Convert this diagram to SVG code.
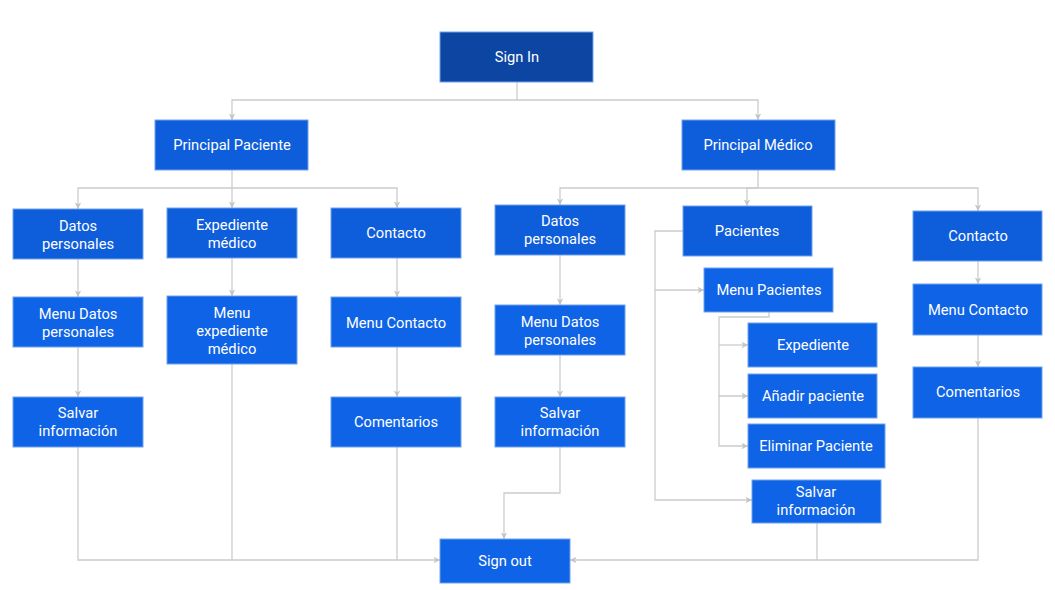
<svg xmlns="http://www.w3.org/2000/svg" width="1055" height="590" viewBox="0 0 1055 590">
<style>
.n rect{fill:#0f63e6;stroke:#6ea2ee;stroke-width:1}
.n.dk rect{fill:#0c46a2}
.n.md rect{fill:#0e5ddb}
.n text{font-family:Roboto,"Liberation Sans",sans-serif;font-size:14.7px;fill:#ffffff;text-anchor:middle}
.c path{fill:none;stroke:#cccccc;stroke-width:1.3;marker-end:url(#a)}
.c path.p{marker-end:none}
</style>
<defs>
<marker id="a" viewBox="0 0 10 10" refX="9" refY="5" markerWidth="8" markerHeight="8" markerUnits="userSpaceOnUse" orient="auto">
<path d="M1,1 L9,5 L1,9 L3,5 Z" fill="#c4c4c4"/>
</marker>
</defs>
<rect width="1055" height="590" fill="#ffffff"/>
<g class="c">
<path class="p" d="M517,82 V100"/>
<path d="M517,100 H232 V120"/>
<path d="M517,100 H758 V120"/>
<path class="p" d="M232,170 V188"/>
<path d="M232,188 H78 V209"/>
<path d="M232,188 V208"/>
<path d="M232,188 H397 V208"/>
<path class="p" d="M758,170 V188"/>
<path d="M758,188 H560 V205"/>
<path d="M758,188 H747 V206"/>
<path d="M758,188 H978 V211"/>
<path d="M78,259 V297"/>
<path d="M78,347 V397"/>
<path d="M232,258 V296"/>
<path d="M397,258 V297"/>
<path d="M397,347 V397"/>
<path d="M560,255 V305"/>
<path d="M560,355 V397"/>
<path d="M978,261 V284"/>
<path d="M978,335 V367"/>
<path class="p" d="M683,231 H655 V290"/>
<path d="M655,290 H704"/>
<path d="M655,290 V500 H752"/>
<path class="p" d="M769,312 V317 H719 V345"/>
<path d="M719,345 H748"/>
<path d="M719,345 V396 H748"/>
<path d="M719,396 V446 H748"/>
<path class="p" d="M78,447 V560 H232"/>
<path class="p" d="M232,364 V560 H397"/>
<path d="M397,447 V560 H440"/>
<path d="M560,447 V493 H504 V539"/>
<path d="M817,523 V560 H570"/>
<path class="p" d="M978,418 V560 H817"/>
</g>
<g id="sign-in" class="n dk"><rect x="440" y="32" width="153" height="50"/><text x="517" y="62">Sign In</text></g>
<g id="principal-paciente" class="n md"><rect x="155" y="120" width="153" height="50"/><text x="232" y="150">Principal Paciente</text></g>
<g id="principal-medico" class="n md"><rect x="682" y="120" width="153" height="50"/><text x="758" y="150">Principal Médico</text></g>
<g id="datos-l" class="n md"><rect x="13" y="209" width="130" height="50"/><text x="78" y="231">Datos</text><text x="78" y="249">personales</text></g>
<g id="expediente-medico" class="n md"><rect x="167" y="208" width="130" height="50"/><text x="232" y="230">Expediente</text><text x="232" y="248">médico</text></g>
<g id="contacto-l" class="n md"><rect x="331" y="208" width="130" height="50"/><text x="396" y="238">Contacto</text></g>
<g id="menu-datos-l" class="n"><rect x="13" y="297" width="130" height="50"/><text x="78" y="319">Menu Datos</text><text x="78" y="337">personales</text></g>
<g id="menu-expediente" class="n"><rect x="167" y="296" width="130" height="68"/><text x="232" y="318">Menu</text><text x="232" y="336">expediente</text><text x="232" y="354">médico</text></g>
<g id="menu-contacto-l" class="n"><rect x="331" y="297" width="130" height="50"/><text x="396" y="328">Menu Contacto</text></g>
<g id="salvar-l" class="n"><rect x="13" y="397" width="130" height="50"/><text x="78" y="418">Salvar</text><text x="78" y="436">información</text></g>
<g id="comentarios-l" class="n"><rect x="331" y="397" width="130" height="50"/><text x="396" y="427">Comentarios</text></g>
<g id="datos-r" class="n md"><rect x="495" y="205" width="130" height="50"/><text x="560" y="226">Datos</text><text x="560" y="244">personales</text></g>
<g id="pacientes" class="n md"><rect x="683" y="206" width="129" height="50"/><text x="747" y="236">Pacientes</text></g>
<g id="contacto-r" class="n md"><rect x="913" y="211" width="129" height="50"/><text x="978" y="241">Contacto</text></g>
<g id="menu-datos-r" class="n"><rect x="495" y="305" width="130" height="50"/><text x="560" y="327">Menu Datos</text><text x="560" y="345">personales</text></g>
<g id="salvar-r" class="n"><rect x="495" y="397" width="130" height="50"/><text x="560" y="418">Salvar</text><text x="560" y="436">información</text></g>
<g id="menu-pacientes" class="n"><rect x="704" y="268" width="129" height="44"/><text x="769" y="295">Menu Pacientes</text></g>
<g id="expediente" class="n"><rect x="748" y="323" width="129" height="44"/><text x="813" y="350">Expediente</text></g>
<g id="anadir" class="n"><rect x="748" y="374" width="129" height="44"/><text x="813" y="401">Añadir paciente</text></g>
<g id="eliminar" class="n"><rect x="748" y="424" width="137" height="44"/><text x="816" y="451">Eliminar Paciente</text></g>
<g id="salvar-p" class="n"><rect x="752" y="480" width="129" height="43"/><text x="816" y="497">Salvar</text><text x="816" y="515">información</text></g>
<g id="menu-contacto-r" class="n"><rect x="913" y="284" width="129" height="51"/><text x="978" y="315">Menu Contacto</text></g>
<g id="comentarios-r" class="n"><rect x="913" y="367" width="129" height="51"/><text x="978" y="397">Comentarios</text></g>
<g id="sign-out" class="n"><rect x="440" y="539" width="130" height="44"/><text x="505" y="566">Sign out</text></g>
</svg>
